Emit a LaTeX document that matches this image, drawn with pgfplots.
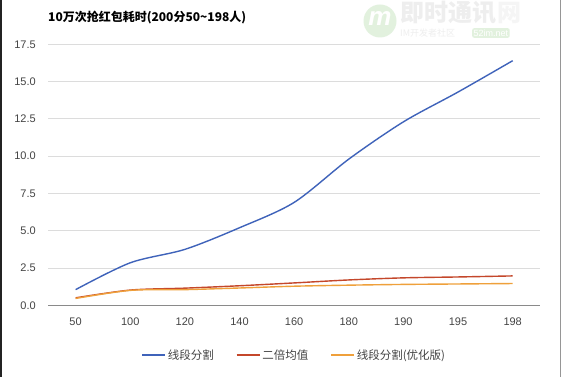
\documentclass[border=0pt]{standalone}
\usepackage{pgfplots}
\pgfplotsset{compat=1.18}
\usepackage{fontspec}
\setmainfont{Liberation Sans}
\newfontfamily\cjk{Noto Sans CJK SC}
\definecolor{cblue}{HTML}{3F63BA}
\definecolor{cred}{HTML}{C4472B}
\definecolor{corange}{HTML}{EFA03B}
\definecolor{tickc}{HTML}{444444}
\definecolor{gridc}{HTML}{DCDCDC}
\definecolor{zeroc}{HTML}{8A8A8A}
\definecolor{wmgray}{HTML}{EEEEEE}
\definecolor{wmgreen}{HTML}{E2F1DE}
\begin{document}
\begin{tikzpicture}[x=1pt,y=1pt]
\useasboundingbox (0,0) rectangle (562,377);
\fill[white] (0,0) rectangle (562,377);
% watermark
\node[circle, fill=wmgreen, minimum size=33pt, inner sep=0pt] at (380,356) {};
\node[font=\bfseries\itshape\fontsize{26}{26}\selectfont, text=white] at (380,358) {m};
\node[anchor=west, inner sep=0pt, font=\cjk\bfseries\fontsize{24}{24}\selectfont, text=wmgray] at (400,364) {即时通讯};
\node[anchor=west, inner sep=0pt, font=\cjk\bfseries\fontsize{24}{24}\selectfont, text=wmgray!60] at (497,364) {网};
\node[anchor=west, inner sep=0pt, font=\cjk\fontsize{9}{9}\selectfont, text=wmgray] at (400,344) {IM开发者社区};
\node[anchor=west, fill=wmgreen, rounded corners=2pt, inner sep=1.5pt, font=\fontsize{9}{9}\selectfont, text=white] at (472,344) {52im.net};
% frame lines
\draw[line width=2, color={rgb,255:red,35;green,35;blue,35}] (1,0) -- (1,377);
\draw[line width=1.2, color={rgb,255:red,150;green,150;blue,150}] (560.7,0) -- (560.7,377);
% title
\node[anchor=west, inner sep=0pt, font=\cjk\bfseries\fontsize{12}{14}\selectfont] at (48,359.5) {10万次抢红包耗时(200分50\textasciitilde198人)};
\begin{axis}[
  at={(48.3pt,71.7pt)}, anchor=south west,
  scale only axis, width=491.7pt, height=261pt,
  xmin=-0.5, xmax=8.5, ymin=0, ymax=17.5,
  clip=false,
  axis x line*=bottom, axis y line*=left,
  x axis line style={draw=zeroc, line width=1.3pt, -},
  y axis line style={draw=none},
  major tick length=0pt, tick style={draw=none},
  xtick={0,1,2,3,4,5,6,7,8},
  xticklabels={50,100,120,140,160,180,190,195,198},
  ytick={0,2.5,5,7.5,10,12.5,15,17.5},
  yticklabels={0.0,2.5,5.0,7.5,10.0,12.5,15.0,17.5},
  ymajorgrids, grid style={draw=gridc, line width=0.9pt},
  ticklabel style={font=\fontsize{11}{13}\selectfont, text=tickc},
  yticklabel style={anchor=east, xshift=-9pt},
  xticklabel style={anchor=north, yshift=-9pt},
  legend style={at={(axis description cs:0.5,-0.19)}, anchor=center, draw=none, fill=none,
    font=\cjk\fontsize{11.5}{13}\selectfont, text=tickc,
    /tikz/every even column/.append style={column sep=20pt}},
  legend columns=3,
  legend image code/.code={\draw[#1, line width=1.5pt] (0pt,0pt) -- (23pt,0pt);},
]
\addplot[cblue, line width=1.4pt, smooth] coordinates {(0,1.05)(1,2.85)(2,3.75)(3,5.2)(4,6.9)(5,9.8)(6,12.3)(7,14.3)(8,16.4)};
\addlegendentry{线段分割}
\addplot[cred, line width=1.4pt, smooth] coordinates {(0,0.5)(1,1.02)(2,1.15)(3,1.31)(4,1.5)(5,1.7)(6,1.84)(7,1.9)(8,1.97)};
\addlegendentry{二倍均值}
\addplot[corange, line width=1.4pt, smooth] coordinates {(0,0.46)(1,1.0)(2,1.05)(3,1.16)(4,1.28)(5,1.35)(6,1.4)(7,1.43)(8,1.46)};
\addlegendentry{线段分割(优化版)}
\end{axis}
\end{tikzpicture}
\end{document}
